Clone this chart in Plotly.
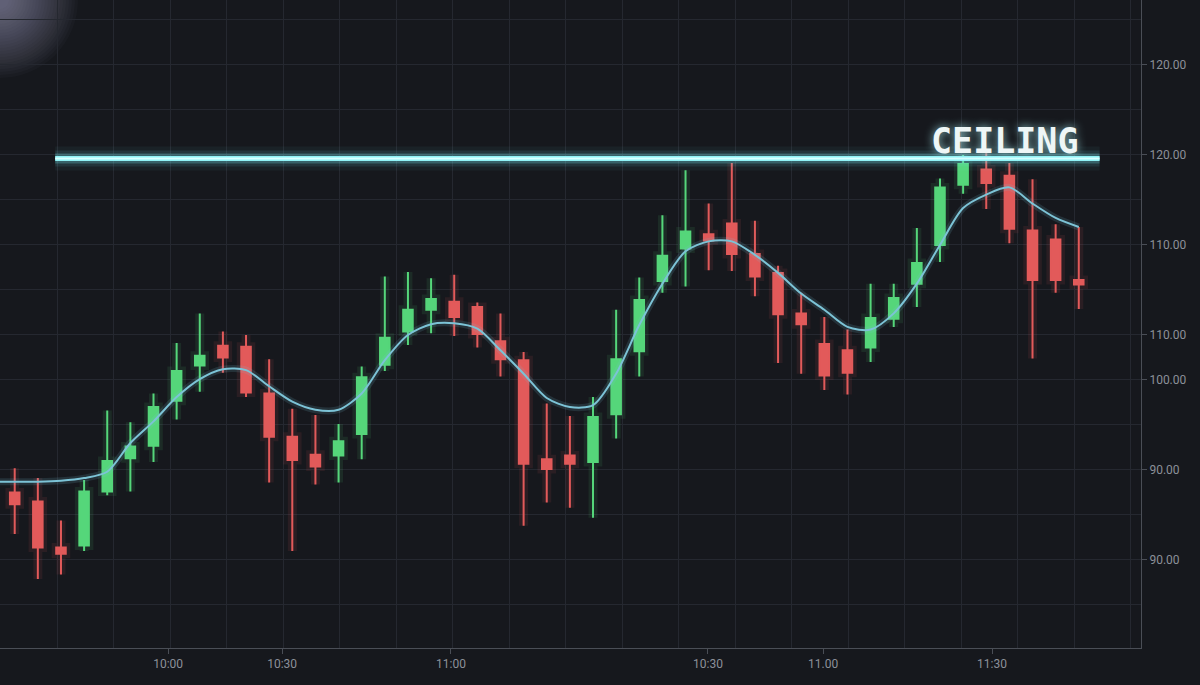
import plotly.graph_objects as go

# ---------------- data ----------------
slot = list(range(47))  # candle slots (time index)
opens = [82.5, 81.5, 76.4, 76.6, 82.6, 86.3, 87.7, 92.7, 96.6, 98.8,
         98.7, 93.5, 88.7, 86.7, 86.6, 89.0, 96.7, 100.4, 102.8, 103.7,
         103.1, 99.3, 97.2, 86.2, 86.6, 85.9, 91.2, 98.2, 106.0, 109.6,
         111.2, 112.4, 109.0, 106.9, 102.4, 99.0, 98.3, 98.6, 101.8, 105.7,
         110.0, 116.7, 118.4, 117.7, 111.6, 110.6, 106.1]
highs = [85.2, 84.1, 79.4, 83.9, 91.6, 90.3, 93.5, 99.1, 102.4, 100.4,
         100.0, 97.3, 91.8, 91.1, 90.1, 96.5, 106.5, 107.0, 106.3, 106.7,
         103.6, 102.4, 98.1, 92.4, 91.0, 93.1, 102.8, 106.4, 113.3, 118.3,
         114.6, 119.1, 112.7, 107.7, 104.7, 102.0, 100.6, 105.7, 105.7, 111.9,
         117.4, 120.0, 120.2, 119.1, 117.3, 112.3, 112.0]
lows = [77.9, 72.9, 73.4, 76.0, 82.2, 82.6, 85.9, 90.6, 93.7, 95.8,
        93.1, 83.6, 76.0, 83.4, 83.6, 86.2, 96.0, 98.9, 100.2, 99.9,
        98.6, 95.4, 78.8, 81.4, 80.8, 79.7, 88.5, 95.4, 104.7, 105.4,
        107.2, 107.1, 104.3, 96.9, 95.7, 93.9, 93.4, 97.0, 100.9, 103.1,
        108.1, 115.7, 114.0, 110.2, 97.4, 104.7, 102.9]
closes = [81.2, 76.4, 75.7, 82.6, 86.0, 87.6, 92.0, 96.0, 97.7, 97.5,
          93.6, 88.7, 86.1, 85.4, 88.2, 95.3, 99.7, 102.8, 104.0, 102.0,
          100.1, 97.3, 85.7, 85.1, 85.7, 90.9, 97.3, 103.9, 108.8, 111.5,
          110.5, 109.0, 106.5, 102.3, 101.2, 95.5, 95.8, 101.9, 104.1, 108.0,
          116.4, 119.0, 116.9, 111.8, 106.1, 106.1, 105.6]
# smoothed average line
ma_slot = [-1] + slot
ma_vals = [83.7, 83.7, 83.7, 83.8, 84.1, 84.8, 88.0, 90.4, 93.1, 95.1, 96.2,
           96.1, 94.3, 92.6, 91.7, 91.7, 93.5, 97.2, 100.0, 101.2, 101.3,
           100.7, 98.3, 95.7, 93.0, 92.0, 92.2, 95.7, 101.1, 105.7, 109.3,
           110.4, 110.4, 108.9, 106.9, 104.6, 102.8, 100.9, 100.6, 102.4, 105.7,
           110.0, 114.1, 115.6, 116.4, 114.6, 113.0, 112.0]

ceiling_level = 119.6
ceiling_span = [1.75, 46.9]
ceiling_label = "CEILING"

y_tickvals = [130, 120, 110, 100, 95, 85, 75]
y_ticktext = ["120.00", "120.00", "110.00", "110.00", "100.00", "90.00", "90.00"]
x_tickvals = [6.63, 11.56, 18.86, 29.97, 34.95, 42.25]
x_ticktext = ["10:00", "10:30", "11:00", "10:30", "11.00", "11:30"]

# ---------------- style ----------------
BG = "#16181d"
GRID = "#252830"
AXIS = "#4a4e56"
TICKFONT = "#8c9099"
GREEN = "#55d67a"
RED = "#e25a5a"
CYAN = "#8ff3f6"
MA_COLOR = "#7cc3d6"

fig = go.Figure()

# candle glow
fig.add_trace(go.Candlestick(
    x=slot, open=opens, high=highs, low=lows, close=closes,
    increasing=dict(line=dict(color="rgba(85,214,122,0.10)", width=9),
                    fillcolor="rgba(85,214,122,0.10)"),
    decreasing=dict(line=dict(color="rgba(226,90,90,0.10)", width=9),
                    fillcolor="rgba(226,90,90,0.10)"),
    hoverinfo="skip", showlegend=False))
# candles
fig.add_trace(go.Candlestick(
    x=slot, open=opens, high=highs, low=lows, close=closes,
    increasing=dict(line=dict(color=GREEN, width=2), fillcolor=GREEN),
    decreasing=dict(line=dict(color=RED, width=2), fillcolor=RED),
    showlegend=False, name="price"))

# moving-average line with glow
fig.add_trace(go.Scatter(x=ma_slot, y=ma_vals, mode="lines",
                         line=dict(color="rgba(124,195,214,0.15)", width=7, shape="spline", smoothing=0.8),
                         hoverinfo="skip", showlegend=False))
fig.add_trace(go.Scatter(x=ma_slot, y=ma_vals, mode="lines",
                         line=dict(color=MA_COLOR, width=2, shape="spline", smoothing=0.8),
                         showlegend=False, name="MA"))

# ceiling line with glow
for w, col in [(24, "rgba(110,230,240,0.05)"), (16, "rgba(110,230,240,0.10)"),
               (10, "rgba(120,235,245,0.25)"), (5, CYAN), (2, "#d8ffff")]:
    fig.add_trace(go.Scatter(x=ceiling_span, y=[ceiling_level, ceiling_level], mode="lines",
                             line=dict(color=col, width=w), hoverinfo="skip", showlegend=False))

fig.add_annotation(x=ceiling_span[1] - 0.8, y=ceiling_level + 2.0, xref="x", yref="y",
                   text=f"<b>{ceiling_label}</b>", showarrow=False,
                   xanchor="right", yanchor="middle",
                   font=dict(family="DejaVu Sans Mono", size=35, color="#eef6f6",
                             shadow="0px 0px 10px rgba(170,240,245,0.8)"))

# top-left light flare (soft radial glow from many faint discs)
for k in range(24):
    r = 78 - k * 3
    fig.add_shape(type="circle", xref="paper", yref="paper", xsizemode="pixel", ysizemode="pixel",
                  xanchor=0, yanchor=1, x0=-r, x1=r, y0=-r, y1=r,
                  fillcolor="rgba(225,230,240,0.022)", line=dict(width=0), layer="below")

fig.update_layout(
    width=1200, height=685,
    margin=dict(l=0, r=59, t=0, b=37),
    paper_bgcolor=BG, plot_bgcolor=BG,
    boxgap=0.41,
    showlegend=False,
    font=dict(family="Roboto", color=TICKFONT, size=12),
    xaxis=dict(range=[-0.636, 48.69], rangeslider=dict(visible=False),
               tickmode="array", tickvals=x_tickvals, ticktext=x_ticktext,
               showgrid=False, zeroline=False,
               showline=True, linecolor=AXIS, linewidth=1,
               ticks="outside", ticklen=5, tickcolor=AXIS,
               tickfont=dict(size=12, color=TICKFONT),
               minor=dict(tickmode="linear", tick0=6.72, dtick=2.443, showgrid=True,
                          gridcolor=GRID, gridwidth=1, ticks="")),
    yaxis=dict(range=[65.22, 137.22], side="right",
               tickmode="array", tickvals=y_tickvals, ticktext=y_ticktext,
               showgrid=True, gridcolor=GRID, zeroline=False,
               showline=True, linecolor=AXIS, linewidth=1,
               ticks="outside", ticklen=5, tickcolor=AXIS,
               tickfont=dict(size=12, color=TICKFONT),
               minor=dict(tickmode="linear", tick0=0, dtick=5, showgrid=True,
                          gridcolor=GRID, gridwidth=1, ticks="")),
)

fig.write_html("out.html")
